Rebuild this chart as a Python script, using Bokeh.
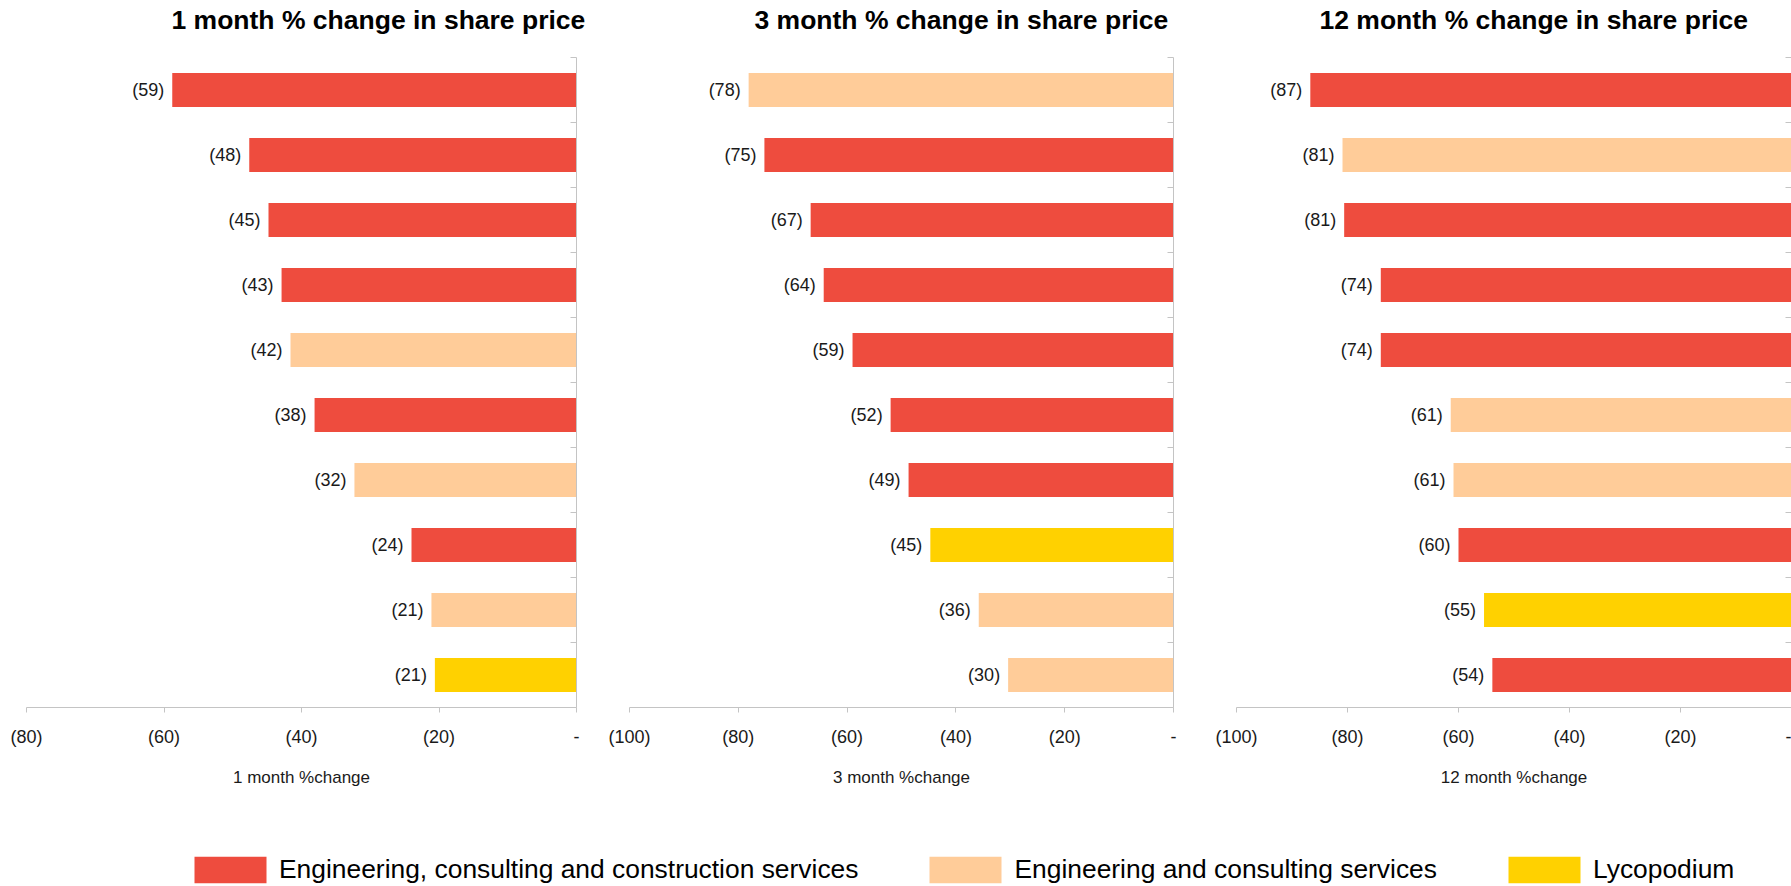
from bokeh.plotting import figure
from bokeh.models import (Range1d, FixedTicker, CustomJSTickFormatter, ColumnDataSource,
                          Legend, LegendItem, Title)
from bokeh.layouts import column, row
from bokeh.embed import file_html
from bokeh.resources import INLINE
from bokeh.core.properties import value

# ---------------- data ----------------
group_names = ["Engineering, consulting and construction services",
               "Engineering and consulting services",
               "Lycopodium"]
group_colors = ["#EE4C3E", "#FFCC99", "#FFD100"]

# group index: 0 = ECC services, 1 = EC services, 2 = Lycopodium
m1_values = [-58.8, -47.6, -44.8, -42.9, -41.6, -38.1, -32.3, -24.0, -21.1, -20.6]
m1_groups = [0, 0, 0, 0, 1, 0, 1, 0, 1, 2]

m3_values = [-78.1, -75.2, -66.7, -64.3, -59.0, -52.0, -48.7, -44.7, -35.8, -30.4]
m3_groups = [1, 0, 0, 0, 0, 0, 0, 2, 1, 1]

m12_values = [-86.7, -80.9, -80.6, -74.0, -74.0, -61.4, -60.9, -60.0, -55.4, -53.9]
m12_groups = [0, 1, 0, 0, 0, 1, 1, 0, 2, 0]

titles = ["1 month % change in share price",
          "3 month % change in share price",
          "12 month % change in share price"]
axis_titles = ["1 month %change", "3 month %change", "12 month %change"]
x_mins = [-80, -100, -100]

FONT = "Liberation Sans"
AXIS_GREY = "#C4C4C4"
TEXT = "#1A1A1A"
MAIN_H = 798
TOP = 57
FRAME_H = 650


def make_panel(values, groups, xmin, title, xlabel, width, mbl, mbr, title_offset):
    n = len(values)
    src = ColumnDataSource(dict(
        y=[n - 0.5 - i for i in range(n)],
        v=values,
        color=[group_colors[g] for g in groups],
        label=["(%d)" % abs(round(v)) for v in values],
    ))
    p = figure(width=width, height=MAIN_H, x_range=Range1d(xmin, 0), y_range=Range1d(0, n),
               output_backend="svg", toolbar_location=None, y_axis_location="right",
               min_border_left=mbl, min_border_right=mbr, min_border_top=TOP,
               min_border_bottom=MAIN_H - TOP - FRAME_H, outline_line_color=None)
    p.grid.visible = False
    p.hbar(y="y", left=0, right="v", height=0.52, fill_color="color", line_color=None, source=src)
    p.text(x="v", y="y", text="label", x_offset=-8, text_align="right", text_baseline="middle",
           text_font=value(FONT), text_font_size="18px", text_color=TEXT, source=src)

    xa = p.xaxis[0]
    xa.ticker = FixedTicker(ticks=list(range(xmin, 1, 20)))
    xa.formatter = CustomJSTickFormatter(code="return tick < -0.5 ? '(' + Math.round(-tick) + ')' : '-';")
    xa.axis_line_color = AXIS_GREY
    xa.major_tick_line_color = AXIS_GREY
    xa.minor_tick_line_color = None
    xa.major_tick_in = 0
    xa.major_tick_out = 5
    xa.major_label_standoff = 14
    xa.major_label_text_font = FONT
    xa.major_label_text_font_size = "18px"
    xa.major_label_text_color = TEXT
    xa.axis_label = xlabel
    xa.axis_label_standoff = 18
    xa.axis_label_text_font = FONT
    xa.axis_label_text_font_size = "17px"
    xa.axis_label_text_font_style = "normal"
    xa.axis_label_text_color = TEXT

    ya = p.yaxis[0]
    ya.ticker = FixedTicker(ticks=list(range(0, n + 1)))
    ya.formatter = CustomJSTickFormatter(code="return '';")
    ya.major_label_text_font_size = "0px"
    ya.major_label_standoff = 0
    ya.axis_line_color = AXIS_GREY
    ya.major_tick_line_color = AXIS_GREY
    ya.minor_tick_line_color = None
    ya.major_tick_in = 6
    ya.major_tick_out = 0

    # small blank spacer between the frame and the title
    p.add_layout(Title(text=" ", text_font_size="2px", standoff=13), "above")

    p.title.text = title
    p.title.text_font = FONT
    p.title.text_font_size = "26.5px"
    p.title.text_font_style = "bold"
    p.title.text_color = "#000000"
    p.title.align = "left"
    p.title.vertical_align = "top"
    p.title.offset = title_offset
    p.title.standoff = 8
    return p


p1 = make_panel(m1_values, m1_groups, x_mins[0], titles[0], axis_titles[0], 600, 26, 24, 145)
p2 = make_panel(m3_values, m3_groups, x_mins[1], titles[1], axis_titles[1], 605, 29, 32, 125)
p3 = make_panel(m12_values, m12_groups, x_mins[2], titles[2], axis_titles[2], 586, 31, 0, 83)

# ---------------- legend ----------------
lp = figure(width=1791, height=886 - MAIN_H, x_range=Range1d(0, 1), y_range=Range1d(0, 1),
            output_backend="svg", toolbar_location=None, min_border=0,
            outline_line_color=None)
lp.axis.visible = False
lp.grid.visible = False
items = []
for name, col in zip(group_names, group_colors):
    # off-range placeholder so that the legend swatch is drawn
    r = lp.hbar(y=[-5], right=[1], height=0.5, fill_color=col, line_color=None)
    items.append(LegendItem(label=name, renderers=[r]))
legend = Legend(items=items, orientation="horizontal", location=(185, 0),
                glyph_width=90, glyph_height=33, label_standoff=4, spacing=62,
                padding=0, margin=0, border_line_color=None, background_fill_alpha=0,
                label_text_font=FONT, label_text_font_size="26.4px", label_text_color="#000000")
lp.add_layout(legend, "center")

layout = column(row(p1, p2, p3, spacing=0), lp, spacing=0)
open("out.html", "w").write(file_html(layout, INLINE))
